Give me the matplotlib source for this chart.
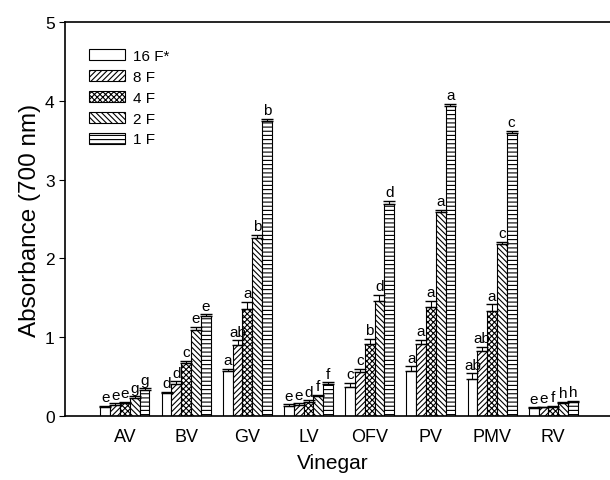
import numpy as np
import matplotlib.pyplot as plt

plt.rcParams['font.family'] = ['Liberation Sans', 'DejaVu Sans']
plt.rcParams['hatch.linewidth'] = 0.8

vinegars = ["AV", "BV", "GV", "LV", "OFV", "PV", "PMV", "RV"]
dilutions = ["16 F*", "8 F", "4 F", "2 F", "1 F"]

f16 = [0.11, 0.29, 0.57, 0.13, 0.37, 0.57, 0.47, 0.10]
f8 = [0.14, 0.41, 0.90, 0.14, 0.56, 0.92, 0.83, 0.11]
f4 = [0.16, 0.67, 1.36, 0.18, 0.92, 1.38, 1.33, 0.12]
f2 = [0.23, 1.09, 2.26, 0.25, 1.46, 2.59, 2.18, 0.17]
f1 = [0.33, 1.27, 3.74, 0.41, 2.69, 3.93, 3.59, 0.18]

e16 = [0.02, 0.02, 0.03, 0.02, 0.05, 0.06, 0.07, 0.01]
e8 = [0.02, 0.03, 0.06, 0.02, 0.04, 0.05, 0.05, 0.01]
e4 = [0.02, 0.03, 0.09, 0.02, 0.06, 0.08, 0.09, 0.01]
e2 = [0.02, 0.04, 0.04, 0.02, 0.08, 0.03, 0.03, 0.01]
e1 = [0.02, 0.02, 0.03, 0.02, 0.04, 0.03, 0.03, 0.01]

l16 = ["e", "d", "a", "e", "c", "a", "ab", "e"]
l8 = ["e", "d", "ab", "e", "c", "a", "ab", "e"]
l4 = ["e", "c", "a", "d", "b", "a", "a", "f"]
l2 = ["g", "e", "b", "f", "d", "a", "c", "h"]
l1 = ["g", "e", "b", "f", "d", "a", "c", "h"]

series = [f16, f8, f4, f2, f1]
errors = [e16, e8, e4, e2, e1]
letters = [l16, l8, l4, l2, l1]
hatches = ["", "//////", "xxxxxx", "\\\\\\\\\\\\", "----"]

fig = plt.figure(figsize=(6.10, 4.81), dpi=100)
ax = fig.add_axes([65 / 610, 64 / 481, 580 / 610, 394 / 481])

x = np.arange(len(vinegars))
w = 0.16
for i, (vals, err, lab, h) in enumerate(zip(series, errors, letters, hatches)):
    pos = x + (i - 2) * w
    ax.bar(pos, vals, width=w, color="white", edgecolor="black",
           linewidth=0.8, hatch=h, label=dilutions[i])
    ax.errorbar(pos, vals, yerr=[np.zeros(len(vals)), err], fmt="none",
                ecolor="black", elinewidth=0.8, capsize=4, capthick=1.0)
    for p, v, e, t in zip(pos, vals, err, lab):
        ax.text(p, v + e + 0.02, t, ha="center", va="bottom", fontsize=11)

ax.set_xlim(-0.98, 8.5)
ax.set_ylim(0, 5)
ax.set_xticks(x)
ax.set_xticklabels(vinegars, fontsize=13)
ax.tick_params(axis="x", length=0, pad=9)
ax.tick_params(axis="y", direction="out", length=4, labelsize=12.5)
ax.set_yticks([0, 1, 2, 3, 4, 5])
ax.set_xlabel("Vinegar", fontsize=15)
ax.xaxis.set_label_coords(0.462, -0.095)
ax.set_ylabel("Absorbance (700 nm)", fontsize=17.5, labelpad=3)
for s in ax.spines.values():
    s.set_linewidth(1.2)

ax.legend(loc="upper left", bbox_to_anchor=(0.031, 0.947), frameon=False,
          fontsize=11, handlelength=2.35, handleheight=0.75,
          labelspacing=0.45, handletextpad=0.55, borderaxespad=0)

fig.savefig("out.png", dpi=100)
